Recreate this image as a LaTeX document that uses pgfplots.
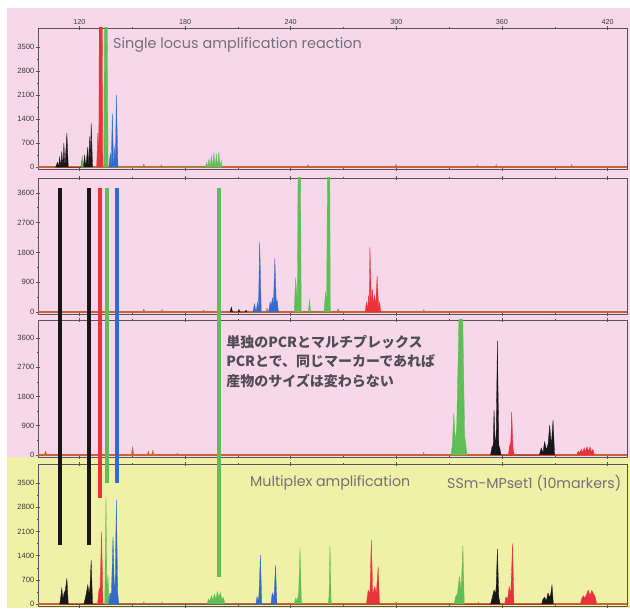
\documentclass[border=0pt]{standalone}
\usepackage{pgfplots}
\pgfplotsset{compat=1.18}
\usepackage{fontspec}
\setmainfont{Liberation Sans}
\newfontfamily\gothic{Poppins}
\newfontfamily\jp{Noto Sans CJK JP}
\definecolor{pinkbg}{RGB}{246,216,234}
\definecolor{yellowbg}{RGB}{240,241,168}
\definecolor{framegray}{RGB}{85,85,90}
\definecolor{tickgray}{RGB}{60,60,60}
\definecolor{txtgray}{RGB}{115,112,118}
\definecolor{jptext}{RGB}{80,77,84}
\definecolor{pkblack}{RGB}{25,22,25}
\definecolor{pkred}{RGB}{232,50,60}
\definecolor{pkgreen}{RGB}{95,190,85}
\definecolor{pkblue}{RGB}{55,105,200}
\definecolor{baseorange}{RGB}{200,100,55}
\pgfplotsset{panel/.style={
  scale only axis, width=589pt, xmin=96.5, xmax=431,
  anchor=north west,
  xtick={120,180,...,420}, minor x tick num=1,
  xtick pos=both, ytick pos=left, tick align=center,
  major tick length=4pt, minor tick length=2.5pt, minor y tick num=1,
  axis line style={draw=framegray, line width=0.9pt},
  every tick/.style={framegray, line width=0.6pt},
  yticklabel style={font=\fontsize{7.6}{8}\selectfont, text=tickgray, inner sep=1.5pt},
  xticklabel style={font=\fontsize{7.2}{8}\selectfont, text=tickgray, inner sep=1.5pt},
  /pgf/number format/assume math mode=true,
  /pgf/number format/1000 sep={},
  clip=true},
  base/.style={baseorange, line width=1.6pt},
  pk/.style={fill=#1, draw=#1, line width=0.3pt},
}
\begin{document}
\begin{tikzpicture}
\fill[white] (0,0) rectangle (630pt,608pt);
\fill[pinkbg] (7pt,151pt) rectangle (630pt,600pt);
\fill[yellowbg] (7pt,0pt) rectangle (630pt,151pt);

% ---------- Panel 1 ----------
\begin{axis}[panel, at={(38pt,580pt)}, height=141pt, ymin=-50, ymax=4050,
  ytick={0,700,...,3500}, xticklabel pos=upper]
\addplot[base] coordinates {(96.5,0)(431,0)};
\addplot[pk=baseorange] coordinates {(156.0,0)(156.6,90)(157.2,0)(166.0,0)(166.5,70)(167.1,0)(249.3,0)(249.8,80)(250.4,0)(299.3,0)(299.8,90)(300.4,0)(345.5,0)(346,70)(346.6,0)(356.2,0)(356.7,80)(357.3,0)(399.1,0)(399.6,80)(400.2,0)};
\addplot[pk=pkblack] coordinates {(106.5,0)(107.6,150)(108.2,0)(108.8,300)(109.4,0)(110.0,460)(110.6,0)(111.2,700)(111.8,0)(112.9,990)(113.7,0)(120.8,0)(121.6,200)(122.2,0)(123.0,350)(123.6,0)(124.8,590)(125.4,0)(125.9,900)(126.2,0)(126.7,1280)(127.5,0)};
\addplot[pk=pkgreen] coordinates {(121.0,0)(121.6,350)(122.2,0)(133.8,0)(134.3,4300)(135.8,4300)(136.3,0)(137.0,0)(137.5,300)(138.0,0)(191.5,0)(192.3,150)(193.0,0)(193.6,250)(194.3,0)(195.0,330)(195.7,0)(196.4,420)(197.1,0)(197.8,380)(198.5,0)(199.2,450)(199.9,0)(200.5,200)(201.2,0)};
\addplot[pk=pkred] coordinates {(129.8,0)(130.5,1000)(131.0,0)(131.3,4300)(133.0,4300)(133.3,0)};
\addplot[pk=pkblue] coordinates {(136.8,0)(137.6,415)(138.1,0)(138.7,1570)(139.5,0)(140.1,600)(140.4,0)(141.0,2100)(141.9,0)};
\node[anchor=west, inner sep=0pt, font=\gothic\fontsize{14.4}{16}\selectfont, text=txtgray] at (axis cs:139.1,3555) {Single locus amplification reaction};
\end{axis}

% ---------- Panel 2 ----------
\begin{axis}[panel, at={(38pt,430pt)}, height=136pt, ymin=-60, ymax=4050,
  ytick={0,900,...,3600}, xticklabels={}]
\addplot[base] coordinates {(96.5,0)(431,0)};
\addplot[pk=baseorange] coordinates {(156.0,0)(156.6,90)(157.2,0)(166.4,0)(166.9,80)(167.5,0)(190,0)(190.6,60)(191.2,0)(226.0,0)(226.6,120)(227.2,0)(266.4,0)(267,100)(267.6,0)(315,0)(315.6,70)(316.2,0)};
\addplot[pk=pkblack] coordinates {(205.5,0)(206.3,150)(207.0,0)(210.0,0)(210.6,80)(211.2,0)(214.0,0)(214.6,60)(215.2,0)};
\addplot[pk=pkgreen] coordinates {(242.0,0)(242.8,1030)(243.8,300)(244.2,4300)(245.6,4300)(246.0,0)(250.0,0)(250.7,360)(251.4,0)(258.9,0)(259.8,610)(260.4,200)(260.9,4300)(262.2,4300)(262.5,0)};
\addplot[pk=pkblue] coordinates {(218.5,0)(219.5,250)(220.3,0)(221.2,300)(221.7,100)(222.4,2120)(223.3,0)(227.5,0)(228.3,300)(229.0,200)(229.6,420)(230.2,200)(231.0,1620)(231.8,300)(232.4,350)(233.0,0)};
\addplot[pk=pkred] coordinates {(282.3,0)(283.0,300)(283.6,100)(284.2,500)(284.6,200)(285.0,1970)(285.9,200)(286.5,700)(287.0,200)(287.6,500)(288.2,200)(289.1,1090)(290.0,100)(290.5,300)(291.2,0)};
\end{axis}

% ---------- Panel 3 ----------
\begin{axis}[panel, at={(38pt,288pt)}, height=137pt, ymin=-60, ymax=4150,
  ytick={0,900,...,3600}, xticklabels={}]
\addplot[base] coordinates {(96.5,0)(431,0)};
\addplot[pk=baseorange] coordinates {(100.0,0)(100.8,120)(101.6,0)(149.5,0)(150.2,255)(150.9,0)(158.5,0)(159.2,120)(159.8,0)(161.0,0)(161.7,150)(162.4,0)(175.0,0)(175.6,60)(176.2,0)(315.0,0)(315.5,80)(316.1,0)};
\addplot[pk=pkgreen] coordinates {(331.0,0)(331.8,300)(332.6,1280)(333.5,400)(334.3,900)(335.6,4300)(337.7,4300)(338.8,600)(339.5,300)(340.2,0)};
\addplot[pk=pkblack] coordinates {(353.5,0)(354.3,250)(355.0,300)(355.5,1380)(356.2,300)(356.7,600)(357.4,3510)(358.2,300)(358.8,200)(359.5,0)(381.2,0)(382.3,215)(383.3,80)(384.2,410)(385.3,150)(386.2,350)(387.1,920)(388.0,300)(389.0,1075)(389.9,0)};
\addplot[pk=pkred] coordinates {(363.6,0)(364.4,300)(365.0,400)(365.5,1330)(366.3,200)(367.0,0)(402.5,0)(403.3,120)(404.2,60)(405.0,180)(405.8,80)(406.7,220)(407.4,100)(408.3,255)(409.1,120)(410.0,250)(410.8,90)(411.6,180)(412.5,0)};
\node[anchor=north west, inner sep=0pt, align=left, font=\jp\bfseries\fontsize{14}{19.5}\selectfont, text=jptext] at (axis cs:203.3,3690) {単独のPCRとマルチプレックス\\PCRとで、同じマーカーであれば\\産物のサイズは変わらない};
\end{axis}

% ---------- Panel 4 ----------
\begin{axis}[panel, at={(38pt,144pt)}, height=142pt, ymin=-50, ymax=4050,
  ytick={0,700,...,3500}, xticklabels={}]
\addplot[base] coordinates {(96.5,0)(431,0)};
\addplot[pk=baseorange] coordinates {(156.0,0)(156.6,70)(157.2,0)(166.4,0)(166.9,60)(167.5,0)(299.3,0)(299.8,70)(300.4,0)(346.0,0)(346.6,60)(347.2,0)};
\addplot[pk=pkblack] coordinates {(108.8,0)(109.4,200)(110.0,460)(110.7,150)(111.2,300)(112.0,400)(112.9,750)(113.7,0)(122.5,0)(123.5,200)(124.8,560)(125.5,300)(126.0,500)(126.7,1280)(127.5,0)(353.5,0)(354.5,200)(355.5,410)(356.3,300)(356.7,500)(357.4,1590)(358.2,200)(359.0,0)(382.5,0)(383.3,150)(384.2,200)(385.2,100)(386.1,325)(387.2,200)(387.7,300)(388.4,560)(389.2,0)};
\addplot[pk=pkgreen] coordinates {(134.4,0)(135.1,3100)(135.6,400)(136.2,850)(136.9,0)(192.5,0)(193.3,150)(194.1,80)(195.0,250)(195.8,120)(196.7,300)(197.5,150)(198.4,365)(199.2,200)(200.1,340)(200.9,150)(201.8,200)(202.7,0)(242.0,0)(242.8,180)(243.6,100)(244.5,300)(245.3,1620)(246.1,0)(261.3,0)(261.8,250)(262.3,1710)(263.0,0)(332.8,0)(333.6,210)(334.6,300)(335.9,800)(336.8,400)(337.8,1680)(338.6,0)};
\addplot[pk=pkred] coordinates {(130.3,0)(131.1,410)(131.8,500)(132.6,2100)(133.4,0)(283.0,0)(284.0,410)(285.0,300)(285.8,1860)(286.6,300)(287.8,510)(288.6,300)(289.7,1090)(290.5,0)(361.5,0)(362.2,210)(363.2,150)(364.1,510)(365.0,300)(366.0,1760)(366.8,0)(404.5,0)(405.2,150)(406.2,250)(407.0,180)(408.2,300)(409.0,410)(410.0,250)(411.0,400)(412.0,300)(413.0,200)(413.8,0)};
\addplot[pk=pkblue] coordinates {(136.6,0)(137.4,325)(138.2,300)(139.1,1950)(139.9,400)(140.3,600)(141.0,3010)(141.8,300)(142.5,0)(220.2,0)(220.9,220)(221.6,100)(222.0,300)(222.8,1420)(223.6,0)(228.8,0)(229.5,325)(230.3,200)(230.7,400)(231.4,1130)(232.2,0)};
\node[anchor=west, inner sep=0pt, font=\gothic\fontsize{14.2}{16}\selectfont, text=txtgray] at (axis cs:216.9,3502) {Multiplex amplification};
\node[anchor=west, inner sep=0pt, font=\gothic\fontsize{14.2}{16}\selectfont, text=txtgray] at (axis cs:328.8,3502) {SSm-MPset1 (10markers)};
\end{axis}

% ---------- connecting size lines (y in pixels from the top) ----------
\begin{axis}[scale only axis, width=589pt, height=608pt, at={(38pt,608pt)}, anchor=north west,
  xmin=96.5, xmax=431, ymin=0, ymax=608, y dir=reverse, hide axis, clip=false]
\addplot[pkblack, line width=4pt] coordinates {(109.1,188)(109.1,545)};
\addplot[pkblack, line width=4pt] coordinates {(125.2,188)(125.2,545)};
\addplot[pkred, line width=4pt] coordinates {(131.5,188)(131.5,498)};
\addplot[pkgreen, line width=4pt] coordinates {(135.5,188)(135.5,483)};
\addplot[pkblue, line width=4pt] coordinates {(141.2,188)(141.2,483)};
\addplot[pkgreen, line width=4pt] coordinates {(199.1,188)(199.1,577)};
\end{axis}
\end{tikzpicture}
\end{document}
